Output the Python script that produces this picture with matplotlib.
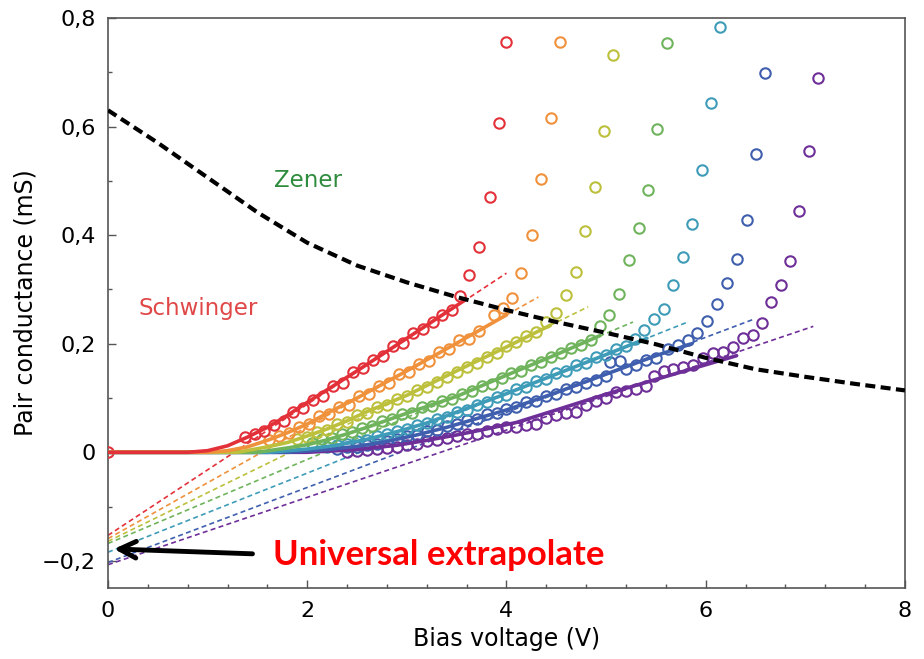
import matplotlib
matplotlib.use('Agg')
import matplotlib.pyplot as plt
from matplotlib.ticker import MultipleLocator, FuncFormatter

plt.rcParams['font.family'] = ['DejaVu Sans']

# ---------------- data ----------------
colors = ['#e3313a', '#f0913c', '#bcc03c', '#6fb45c', '#3f9cb8', '#3f5fae', '#6f2f98']

# solid fit lines
fit_v = [
    [0, 0.8, 1.0, 1.2, 1.4, 1.6, 1.8, 2.0, 2.5, 3.0, 3.58],
    [0, 1.0, 1.2, 1.4, 1.6, 1.8, 2.0, 2.2, 2.5, 3.0, 3.5, 4.0],
    [0, 1.3, 1.6, 1.8, 2.0, 2.2, 2.4, 2.6, 3.0, 3.5, 4.0, 4.44],
    [0, 1.5, 1.8, 2.0, 2.2, 2.4, 2.6, 2.8, 3.0, 3.5, 4.0, 4.5, 4.94],
    [0, 1.6, 2.0, 2.3, 2.6, 2.9, 3.2, 3.5, 4.0, 4.5, 5.0, 5.41],
    [0, 1.8, 2.2, 2.5, 2.8, 3.1, 3.4, 3.7, 4.0, 4.5, 5.0, 5.5, 5.86],
    [0, 2.0, 2.5, 2.9, 3.2, 3.5, 3.8, 4.1, 4.5, 5.0, 5.44, 6.31],
]
fit_g = [
    [0, 0, 0.003, 0.012, 0.028, 0.046, 0.068, 0.092, 0.150, 0.210, 0.280],
    [0, 0, 0.003, 0.010, 0.022, 0.036, 0.052, 0.072, 0.100, 0.150, 0.201, 0.253],
    [0, 0, 0.010, 0.018, 0.030, 0.043, 0.058, 0.075, 0.105, 0.150, 0.194, 0.234],
    [0, 0, 0.008, 0.014, 0.023, 0.034, 0.046, 0.059, 0.072, 0.103, 0.142, 0.180, 0.215],
    [0, 0, 0.006, 0.013, 0.024, 0.038, 0.054, 0.074, 0.108, 0.144, 0.180, 0.210],
    [0, 0, 0.005, 0.011, 0.020, 0.032, 0.046, 0.062, 0.078, 0.110, 0.144, 0.178, 0.200],
    [0, 0, 0.005, 0.013, 0.022, 0.032, 0.043, 0.055, 0.078, 0.107, 0.131, 0.178],
]

# dashed linear extrapolations (start at V=0, end point)
dash_v = [[0, 4.00], [0, 4.32], [0, 4.82], [0, 5.27], [0, 5.82], [0, 6.48], [0, 7.08]]
dash_g = [[-0.153, 0.330], [-0.159, 0.286], [-0.164, 0.268], [-0.168, 0.240],
          [-0.184, 0.240], [-0.203, 0.245], [-0.207, 0.232]]

# measured points (open circles)
pts_v = [
    [0.0, 1.38, 1.48, 1.57, 1.67, 1.77, 1.86, 1.96, 2.06, 2.16, 2.26, 2.36, 2.46, 2.56, 2.66,
     2.76, 2.86, 2.96, 3.06, 3.16, 3.26, 3.35, 3.45, 3.53, 3.62, 3.72, 3.83, 3.92, 4.00],
    [1.62, 1.72, 1.82, 1.92, 2.02, 2.12, 2.22, 2.32, 2.42, 2.52, 2.62, 2.72, 2.82, 2.92, 3.02,
     3.12, 3.22, 3.32, 3.42, 3.52, 3.62, 3.72, 3.87, 3.96, 4.06, 4.15, 4.26, 4.35, 4.45, 4.54],
    [1.90, 2.00, 2.10, 2.20, 2.30, 2.40, 2.50, 2.60, 2.70, 2.80, 2.90, 3.00, 3.10, 3.20, 3.30,
     3.40, 3.50, 3.60, 3.70, 3.80, 3.90, 4.00, 4.10, 4.20, 4.30, 4.40, 4.50, 4.60, 4.70, 4.79,
     4.89, 4.98, 5.07],
    [2.05, 2.15, 2.25, 2.35, 2.45, 2.55, 2.65, 2.75, 2.85, 2.95, 3.05, 3.15, 3.25, 3.35, 3.45,
     3.55, 3.65, 3.75, 3.85, 3.95, 4.05, 4.15, 4.25, 4.35, 4.45, 4.55, 4.65, 4.75, 4.85, 4.94,
     5.03, 5.13, 5.23, 5.33, 5.42, 5.51, 5.61],
    [2.20, 2.30, 2.40, 2.50, 2.60, 2.70, 2.80, 2.90, 3.00, 3.10, 3.20, 3.30, 3.40, 3.50, 3.60,
     3.70, 3.80, 3.90, 4.00, 4.10, 4.20, 4.30, 4.40, 4.50, 4.60, 4.70, 4.80, 4.90, 5.00, 5.10,
     5.20, 5.29, 5.38, 5.48, 5.58, 5.67, 5.77, 5.86, 5.96, 6.05, 6.14],
    [2.30, 2.40, 2.50, 2.60, 2.70, 2.80, 2.90, 3.00, 3.10, 3.20, 3.30, 3.40, 3.50, 3.60, 3.70,
     3.80, 3.90, 4.00, 4.10, 4.20, 4.30, 4.40, 4.50, 4.60, 4.70, 4.80, 4.90, 5.00, 5.04, 5.14,
     5.20, 5.30, 5.40, 5.50, 5.62, 5.72, 5.82, 5.91, 6.01, 6.11, 6.21, 6.31, 6.41, 6.50, 6.59],
    [2.40, 2.50, 2.60, 2.70, 2.80, 2.90, 3.00, 3.10, 3.20, 3.30, 3.40, 3.50, 3.60, 3.70, 3.80,
     3.90, 4.00, 4.10, 4.20, 4.30, 4.40, 4.50, 4.60, 4.70, 4.80, 4.90, 5.00, 5.10, 5.20, 5.30,
     5.40, 5.48, 5.58, 5.67, 5.77, 5.87, 5.97, 6.07, 6.17, 6.27, 6.37, 6.47, 6.56, 6.66, 6.76,
     6.85, 6.94, 7.04, 7.13],
]
pts_g = [
    [0.0, 0.028, 0.033, 0.040, 0.050, 0.058, 0.075, 0.082, 0.097, 0.104, 0.122, 0.128, 0.147,
     0.155, 0.170, 0.178, 0.196, 0.202, 0.220, 0.228, 0.240, 0.253, 0.262, 0.288, 0.327, 0.378,
     0.471, 0.607, 0.755],
    [0.022, 0.030, 0.036, 0.047, 0.053, 0.066, 0.070, 0.083, 0.088, 0.103, 0.108, 0.123, 0.128,
     0.145, 0.148, 0.163, 0.168, 0.185, 0.190, 0.206, 0.209, 0.224, 0.253, 0.265, 0.284, 0.330,
     0.400, 0.503, 0.616, 0.755],
    [0.024, 0.028, 0.038, 0.041, 0.053, 0.056, 0.068, 0.072, 0.084, 0.087, 0.099, 0.103, 0.114,
     0.121, 0.130, 0.138, 0.148, 0.158, 0.165, 0.176, 0.183, 0.196, 0.203, 0.214, 0.222, 0.240,
     0.257, 0.290, 0.332, 0.408, 0.489, 0.592, 0.731],
    [0.018, 0.024, 0.026, 0.033, 0.037, 0.045, 0.049, 0.058, 0.062, 0.070, 0.073, 0.083, 0.086,
     0.094, 0.098, 0.108, 0.112, 0.122, 0.126, 0.136, 0.146, 0.150, 0.160, 0.166, 0.176, 0.182,
     0.192, 0.197, 0.207, 0.232, 0.253, 0.291, 0.354, 0.413, 0.483, 0.596, 0.754],
    [0.010, 0.014, 0.016, 0.021, 0.023, 0.030, 0.033, 0.040, 0.043, 0.050, 0.054, 0.062, 0.065,
     0.075, 0.078, 0.088, 0.092, 0.102, 0.106, 0.116, 0.120, 0.131, 0.135, 0.146, 0.150, 0.160,
     0.164, 0.175, 0.179, 0.190, 0.195, 0.208, 0.225, 0.245, 0.264, 0.308, 0.360, 0.420, 0.520,
     0.644, 0.783],
    [0.006, 0.009, 0.010, 0.014, 0.016, 0.021, 0.024, 0.030, 0.032, 0.039, 0.041, 0.049, 0.052,
     0.060, 0.062, 0.070, 0.073, 0.080, 0.084, 0.092, 0.095, 0.104, 0.107, 0.117, 0.120, 0.128,
     0.133, 0.141, 0.166, 0.168, 0.154, 0.160, 0.170, 0.174, 0.190, 0.197, 0.207, 0.220, 0.242,
     0.273, 0.311, 0.356, 0.428, 0.549, 0.698],
    [0.001, 0.002, 0.004, 0.006, 0.008, 0.010, 0.014, 0.016, 0.021, 0.022, 0.027, 0.030, 0.033,
     0.034, 0.040, 0.043, 0.046, 0.047, 0.050, 0.053, 0.064, 0.068, 0.072, 0.075, 0.087, 0.095,
     0.100, 0.111, 0.113, 0.117, 0.122, 0.140, 0.150, 0.153, 0.157, 0.160, 0.173, 0.183, 0.185,
     0.194, 0.210, 0.216, 0.238, 0.277, 0.308, 0.352, 0.445, 0.555, 0.690],
]

# Zener / Schwinger crossover curve
cross_v = [0.0, 0.5, 1.0, 1.5, 2.0, 2.5, 3.0, 3.5, 4.0, 4.5, 5.0, 5.5, 6.0, 6.5, 7.0, 7.5, 8.0]
cross_g = [0.630, 0.570, 0.506, 0.442, 0.386, 0.344, 0.313, 0.286, 0.262, 0.240, 0.220, 0.199,
           0.174, 0.153, 0.139, 0.126, 0.114]

# ---------------- plot ----------------
fig = plt.figure(figsize=(9.24, 6.59), dpi=100)
ax = fig.add_axes([0.1169, 0.1077, 0.8625, 0.865])

n = len(colors)
for i in reversed(range(n)):
    c = colors[i]
    z = (n - i) * 0.01
    ax.plot(dash_v[i], dash_g[i], color=c, lw=1.2, ls=(0, (3, 2)), zorder=2 + z)
    ax.plot(pts_v[i], pts_g[i], 'o', mfc='none', mec=c, ms=7.5, mew=1.5, zorder=3 + z)
    ax.plot(fit_v[i], fit_g[i], color=c, lw=2.6, solid_capstyle='round', zorder=4 + z)

ax.plot(cross_v, cross_g, color='black', lw=3.0, ls=(0, (2.4, 1.3)), zorder=6)

ax.set_xlim(0, 8)
ax.set_ylim(-0.25, 0.8)
ax.xaxis.set_major_locator(MultipleLocator(2))
ax.xaxis.set_minor_locator(MultipleLocator(0.4))
ax.yaxis.set_major_locator(MultipleLocator(0.2))
ax.yaxis.set_minor_locator(MultipleLocator(0.1))

def fmt(v, pos):
    if abs(v) < 1e-9:
        return '0'
    if abs(v - round(v)) < 1e-9:
        return str(int(round(v)))
    return f'{v:.1f}'.replace('.', ',').replace('-', '\u2212')

ax.xaxis.set_major_formatter(FuncFormatter(fmt))
ax.yaxis.set_major_formatter(FuncFormatter(fmt))
ax.tick_params(axis='both', which='major', direction='in', length=6, width=1,
               labelsize=16, color='#555555', pad=9)
ax.tick_params(axis='both', which='minor', direction='in', length=3, width=1, color='#555555')
for s in ax.spines.values():
    s.set_color('#555555')
    s.set_linewidth(1.2)

ax.set_xlabel('Bias voltage (V)', fontsize=17, labelpad=5)
ax.set_ylabel('Pair conductance (mS)', fontsize=17, labelpad=3)

ax.text(2.01, 0.50, 'Zener', color='#2f8c3e', fontsize=16.5, ha='center', va='center')
ax.text(0.91, 0.264, 'Schwinger', color='#e04848', fontsize=16.5, ha='center', va='center')
ax.text(1.66, -0.19, 'Universal extrapolate', color='#ff0000', fontsize=25,
        fontweight='bold', family=['Lato', 'DejaVu Sans'], ha='left', va='center', zorder=8)
ax.annotate('', xy=(0.06, -0.178), xytext=(1.45, -0.187),
            arrowprops=dict(arrowstyle='->', lw=3.5, color='black', mutation_scale=30,
                            shrinkA=0, shrinkB=0), zorder=8)

fig.savefig('out.png', dpi=100)
